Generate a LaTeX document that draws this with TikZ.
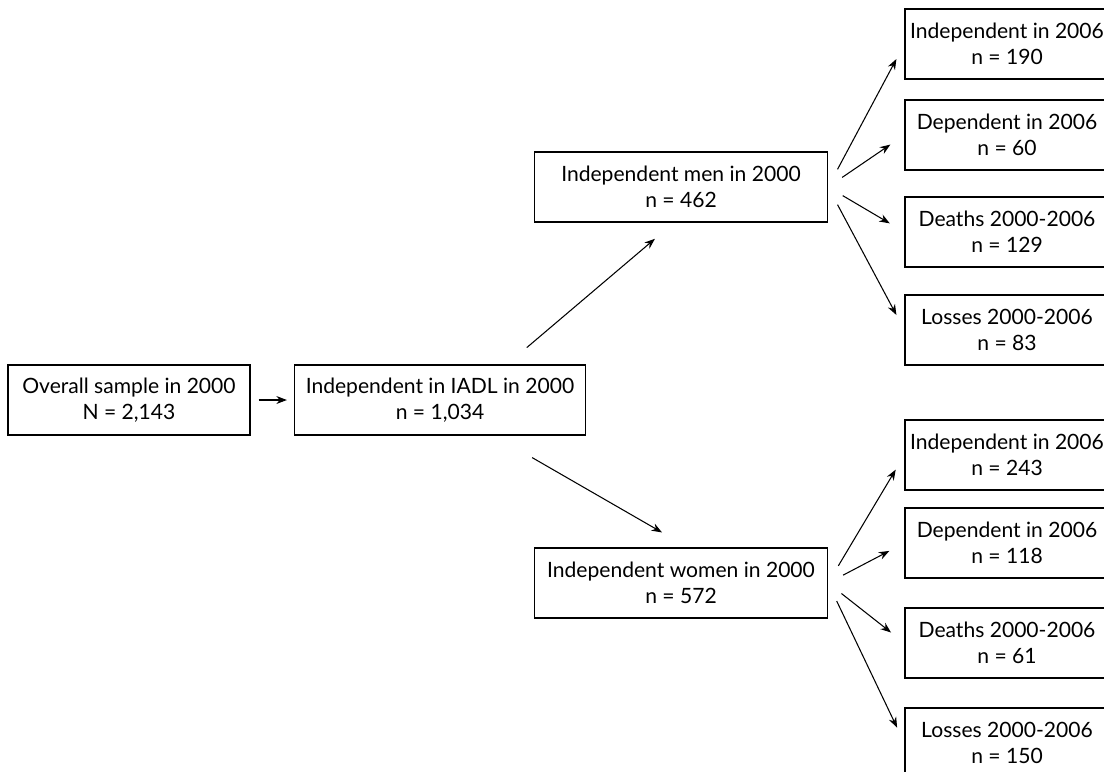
\documentclass[tikz,border=0pt]{standalone}
\usepackage{fontspec}
\setmainfont{Lato}
\usetikzlibrary{arrows.meta}

\begin{document}
\begin{tikzpicture}[x=0.02cm, y=-0.02cm]
  \tikzstyle{boite}=[draw, line width=0.7pt, align=center, inner sep=0,
    minimum height=1.4cm, font=\fontsize{12}{15}\selectfont];
  \tikzstyle{fleche}=[line width=0.6pt, -{Stealth[length=6pt, width=4.5pt]}];

  \useasboundingbox (0,0) rectangle (1104,771);
  \clip (0,0) rectangle (1104,771);

  \node[boite, minimum width=4.84cm] (overall) at (129,400) {Overall sample in 2000\\N = 2,143};
  \node[boite, minimum width=5.82cm] (iadl) at (440,400) {Independent in IADL in 2000\\n = 1,034};
  \node[boite, minimum width=5.86cm] (men) at (681,187) {Independent men in 2000\\n = 462};
  \node[boite, minimum width=5.86cm] (women) at (681,583) {Independent women in 2000\\n = 572};

  \node[boite, minimum width=4.08cm] (mind) at (1007,44) {Independent in 2006\\n = 190};
  \node[boite, minimum width=4.08cm] (mdep) at (1007,135) {Dependent in 2006\\n = 60};
  \node[boite, minimum width=4.08cm] (mdea) at (1007,232) {Deaths 2000-2006\\n = 129};
  \node[boite, minimum width=4.08cm] (mlos) at (1007,330) {Losses 2000-2006\\n = 83};

  \node[boite, minimum width=4.08cm] (wind) at (1007,455) {Independent in 2006\\n = 243};
  \node[boite, minimum width=4.08cm] (wdep) at (1007,543) {Dependent in 2006\\n = 118};
  \node[boite, minimum width=4.08cm] (wdea) at (1007,643) {Deaths 2000-2006\\n = 61};
  \node[boite, minimum width=4.08cm] (wlos) at (1007,743) {Losses 2000-2006\\n = 150};

  \draw[fleche, shorten <=0.16cm, shorten >=0.14cm] (overall.east) -- (iadl.west);
  \draw[fleche, shorten <=0.52cm, shorten >=0.5cm] ([xshift=1.34cm]iadl.north) -- ([xshift=-0.14cm]men.south);
  \draw[fleche, shorten <=0.88cm, shorten >=0.6cm] ([xshift=1.08cm]iadl.south) -- ([xshift=0.14cm]women.north);

  \draw[fleche, shorten <=0.4cm, shorten >=0.34cm] (men.east) -- (mind.west);
  \draw[fleche, shorten <=0.34cm, shorten >=0.34cm] (men.east) -- (mdep.west);
  \draw[fleche, shorten <=0.34cm, shorten >=0.34cm] (men.east) -- (mdea.west);
  \draw[fleche, shorten <=0.4cm, shorten >=0.34cm] (men.east) -- (mlos.west);

  \draw[fleche, shorten <=0.4cm, shorten >=0.34cm] (women.east) -- (wind.west);
  \draw[fleche, shorten <=0.34cm, shorten >=0.34cm] (women.east) -- (wdep.west);
  \draw[fleche, shorten <=0.34cm, shorten >=0.34cm] (women.east) -- (wdea.west);
  \draw[fleche, shorten <=0.4cm, shorten >=0.34cm] (women.east) -- (wlos.west);
\end{tikzpicture}
\end{document}
